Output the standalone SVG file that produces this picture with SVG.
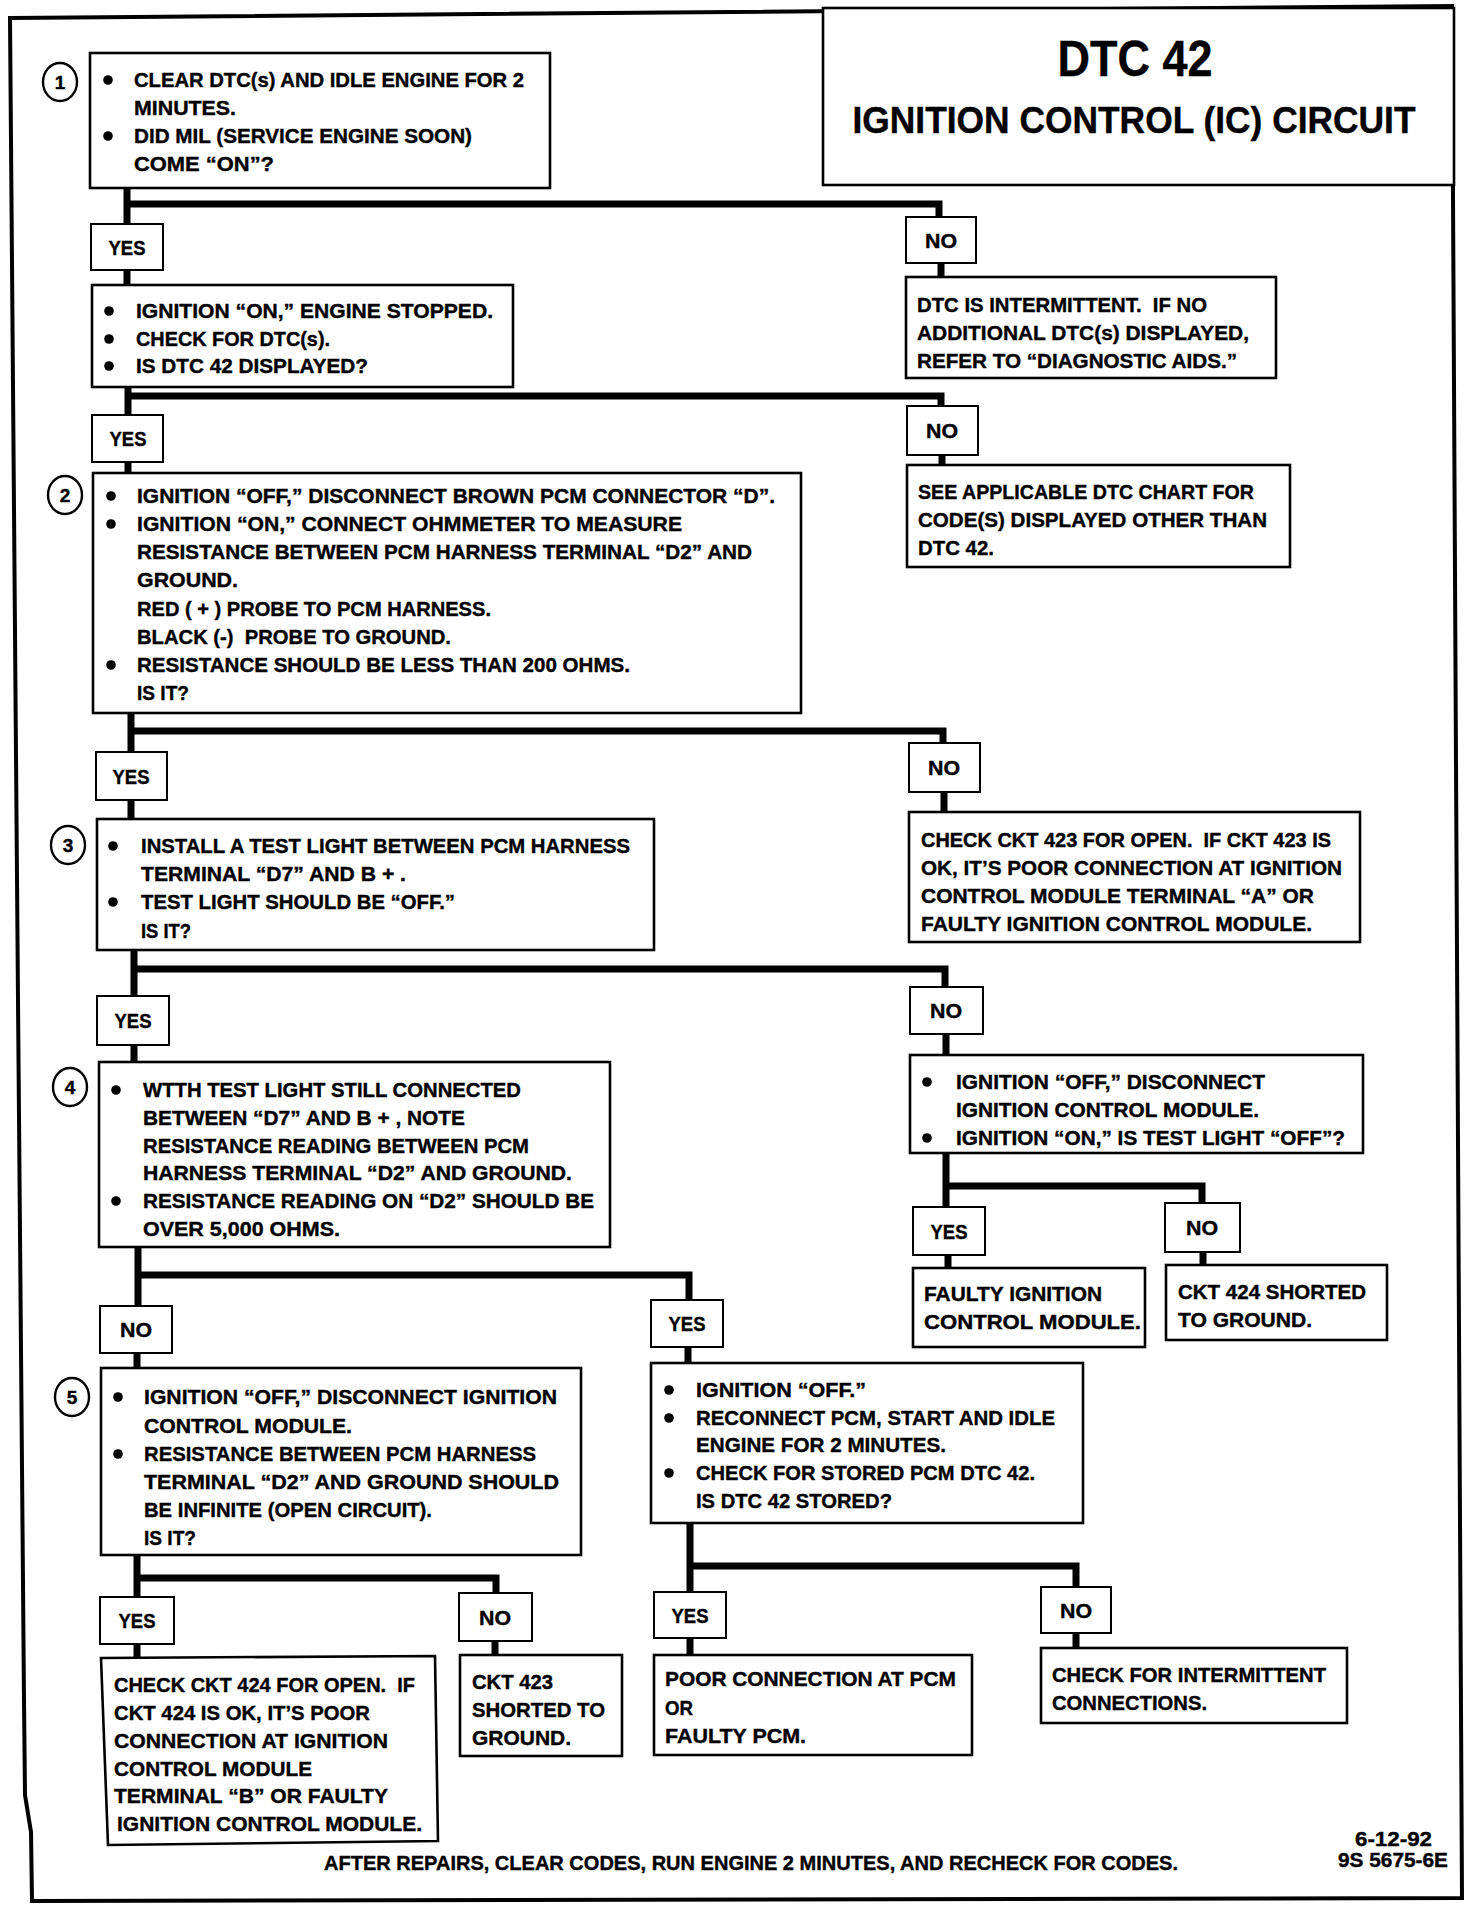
<svg xmlns="http://www.w3.org/2000/svg" width="1472" height="1910" viewBox="0 0 1472 1910">
<style>
.t{font-family:"Liberation Sans",Arial,sans-serif;font-weight:bold;font-size:21px;fill:#000;stroke:#000;stroke-width:0.4}
.c{text-anchor:middle}
.b{fill:#fff;stroke:#000;stroke-width:2.6}
.n{fill:#fff;stroke:#000;stroke-width:2}
.w{fill:none;stroke:#000;stroke-width:7;stroke-linejoin:miter;stroke-linecap:square}
.d{fill:#000}
</style>
<rect width="1472" height="1910" fill="#fff"/>
<path d="M10,18 L1452,6 L1462,1898 L32,1901 L31,1832 L25,1795 L24,1700 L18,1000 Z" fill="none" stroke="#000" stroke-width="4"/>

<g id="connectors">
<path class="w" d="M127,188 V224 M127,204 H939 V217"/>
<path class="w" d="M127,270 V285"/>
<path class="w" d="M941,263 V277"/>
<path class="w" d="M128,387 V415 M128,396 H941 V406"/>
<path class="w" d="M942,455 V465"/>
<path class="w" d="M128,462 V473"/>
<path class="w" d="M131,713 V752 M131,731 H943 V743"/>
<path class="w" d="M131,800 V819"/>
<path class="w" d="M944,792 V812"/>
<path class="w" d="M134,950 V996 M134,969 H945 V987"/>
<path class="w" d="M134,1045 V1062"/>
<path class="w" d="M946,1034 V1055"/>
<path class="w" d="M946,1153 V1207 M946,1186 H1202 V1203"/>
<path class="w" d="M948,1255 V1268"/>
<path class="w" d="M1203,1252 V1265"/>
<path class="w" d="M138,1247 V1306 M138,1275 H689 V1300"/>
<path class="w" d="M137,1353 V1368"/>
<path class="w" d="M688,1347 V1367"/>
<path class="w" d="M137,1555 V1597 M137,1578 H496 V1593"/>
<path class="w" d="M137,1644 V1658"/>
<path class="w" d="M495,1641 V1655"/>
<path class="w" d="M690,1523 V1592 M690,1566 H1076 V1587"/>
<path class="w" d="M690,1638 V1655"/>
<path class="w" d="M1076,1633 V1648"/>
</g>

<g id="title">
<rect class="b" x="823" y="8" width="631" height="177"/>
<text class="t c" x="1135" y="76" style="font-size:50px" textLength="155" lengthAdjust="spacingAndGlyphs">DTC 42</text>
<text class="t c" x="1134" y="133" style="font-size:37px" textLength="563" lengthAdjust="spacingAndGlyphs">IGNITION CONTROL (IC) CIRCUIT</text>
</g>

<g id="step1">
<ellipse cx="60" cy="82" rx="17" ry="19" fill="#fff" stroke="#000" stroke-width="2.4"/>
<text class="t c" x="60" y="89" style="font-size:19px">1</text>
<rect class="b" x="90" y="53" width="460" height="135"/>
<circle class="d" cx="108" cy="80" r="4.8"/><circle class="d" cx="108" cy="136" r="4.8"/>
<text class="t" x="134" y="87" textLength="390" lengthAdjust="spacingAndGlyphs">CLEAR DTC(s) AND IDLE ENGINE FOR 2</text>
<text class="t" x="134" y="115" textLength="102" lengthAdjust="spacingAndGlyphs">MINUTES.</text>
<text class="t" x="134" y="143" textLength="338" lengthAdjust="spacingAndGlyphs">DID MIL (SERVICE ENGINE SOON)</text>
<text class="t" x="134" y="171" textLength="140" lengthAdjust="spacingAndGlyphs">COME “ON”?</text>
</g>

<g id="yes1"><rect class="n" x="91" y="224" width="72" height="46"/><text class="t c" x="127" y="255" textLength="37" lengthAdjust="spacingAndGlyphs">YES</text></g>
<g id="no1"><rect class="n" x="906" y="217" width="70" height="46"/><text class="t c" x="941" y="248" textLength="32" lengthAdjust="spacingAndGlyphs">NO</text></g>

<g id="intermittent">
<rect class="b" x="906" y="277" width="370" height="101"/>
<text class="t" x="917" y="312" textLength="290" lengthAdjust="spacingAndGlyphs">DTC IS INTERMITTENT.&#160; IF NO</text>
<text class="t" x="917" y="340" textLength="332" lengthAdjust="spacingAndGlyphs">ADDITIONAL DTC(s) DISPLAYED,</text>
<text class="t" x="917" y="368" textLength="320" lengthAdjust="spacingAndGlyphs">REFER TO “DIAGNOSTIC AIDS.”</text>
</g>

<g id="check-dtc">
<rect class="b" x="92" y="285" width="421" height="102"/>
<circle class="d" cx="109" cy="311" r="4.8"/><circle class="d" cx="109" cy="339" r="4.8"/><circle class="d" cx="109" cy="366" r="4.8"/>
<text class="t" x="136" y="318" textLength="357" lengthAdjust="spacingAndGlyphs">IGNITION “ON,” ENGINE STOPPED.</text>
<text class="t" x="136" y="346" textLength="194" lengthAdjust="spacingAndGlyphs">CHECK FOR DTC(s).</text>
<text class="t" x="136" y="373" textLength="232" lengthAdjust="spacingAndGlyphs">IS DTC 42 DISPLAYED?</text>
</g>

<g id="yes2"><rect class="n" x="92" y="415" width="71" height="47"/><text class="t c" x="128" y="446" textLength="37" lengthAdjust="spacingAndGlyphs">YES</text></g>
<g id="no2"><rect class="n" x="907" y="406" width="71" height="49"/><text class="t c" x="942" y="438" textLength="32" lengthAdjust="spacingAndGlyphs">NO</text></g>

<g id="see-chart">
<rect class="b" x="907" y="465" width="383" height="102"/>
<text class="t" x="918" y="499" textLength="336" lengthAdjust="spacingAndGlyphs">SEE APPLICABLE DTC CHART FOR</text>
<text class="t" x="918" y="527" textLength="349" lengthAdjust="spacingAndGlyphs">CODE(S) DISPLAYED OTHER THAN</text>
<text class="t" x="918" y="555" textLength="76" lengthAdjust="spacingAndGlyphs">DTC 42.</text>
</g>

<g id="step2">
<ellipse cx="65" cy="495" rx="17" ry="19" fill="#fff" stroke="#000" stroke-width="2.4"/>
<text class="t c" x="65" y="502" style="font-size:19px">2</text>
<rect class="b" x="93" y="473" width="708" height="240"/>
<circle class="d" cx="111" cy="496" r="4.8"/><circle class="d" cx="111" cy="524" r="4.8"/><circle class="d" cx="111" cy="665" r="4.8"/>
<text class="t" x="137" y="503" textLength="638" lengthAdjust="spacingAndGlyphs">IGNITION “OFF,” DISCONNECT BROWN PCM CONNECTOR “D”.</text>
<text class="t" x="137" y="531" textLength="545" lengthAdjust="spacingAndGlyphs">IGNITION “ON,” CONNECT OHMMETER TO MEASURE</text>
<text class="t" x="137" y="559" textLength="615" lengthAdjust="spacingAndGlyphs">RESISTANCE BETWEEN PCM HARNESS TERMINAL “D2” AND</text>
<text class="t" x="137" y="587" textLength="101" lengthAdjust="spacingAndGlyphs">GROUND.</text>
<text class="t" x="137" y="616" textLength="354" lengthAdjust="spacingAndGlyphs">RED ( + ) PROBE TO PCM HARNESS.</text>
<text class="t" x="137" y="644" textLength="314" lengthAdjust="spacingAndGlyphs">BLACK (-)&#160; PROBE TO GROUND.</text>
<text class="t" x="137" y="672" textLength="493" lengthAdjust="spacingAndGlyphs">RESISTANCE SHOULD BE LESS THAN 200 OHMS.</text>
<text class="t" x="137" y="700" textLength="52" lengthAdjust="spacingAndGlyphs">IS IT?</text>
</g>

<g id="yes3"><rect class="n" x="96" y="752" width="71" height="48"/><text class="t c" x="131" y="784" textLength="37" lengthAdjust="spacingAndGlyphs">YES</text></g>
<g id="no3"><rect class="n" x="909" y="743" width="71" height="49"/><text class="t c" x="944" y="775" textLength="32" lengthAdjust="spacingAndGlyphs">NO</text></g>

<g id="ckt423-open">
<rect class="b" x="909" y="812" width="451" height="130"/>
<text class="t" x="921" y="847" textLength="410" lengthAdjust="spacingAndGlyphs">CHECK CKT 423 FOR OPEN.&#160; IF CKT 423 IS</text>
<text class="t" x="921" y="875" textLength="421" lengthAdjust="spacingAndGlyphs">OK, IT’S POOR CONNECTION AT IGNITION</text>
<text class="t" x="921" y="903" textLength="393" lengthAdjust="spacingAndGlyphs">CONTROL MODULE TERMINAL “A” OR</text>
<text class="t" x="921" y="931" textLength="391" lengthAdjust="spacingAndGlyphs">FAULTY IGNITION CONTROL MODULE.</text>
</g>

<g id="step3">
<ellipse cx="68" cy="845" rx="17" ry="19" fill="#fff" stroke="#000" stroke-width="2.4"/>
<text class="t c" x="68" y="852" style="font-size:19px">3</text>
<rect class="b" x="97" y="819" width="557" height="131"/>
<circle class="d" cx="113" cy="846" r="4.8"/><circle class="d" cx="113" cy="902" r="4.8"/>
<text class="t" x="141" y="853" textLength="489" lengthAdjust="spacingAndGlyphs">INSTALL A TEST LIGHT BETWEEN PCM HARNESS</text>
<text class="t" x="141" y="881" textLength="265" lengthAdjust="spacingAndGlyphs">TERMINAL “D7” AND B + .</text>
<text class="t" x="141" y="909" textLength="314" lengthAdjust="spacingAndGlyphs">TEST LIGHT SHOULD BE “OFF.”</text>
<text class="t" x="141" y="938" textLength="50" lengthAdjust="spacingAndGlyphs">IS IT?</text>
</g>

<g id="yes4"><rect class="n" x="97" y="996" width="72" height="49"/><text class="t c" x="133" y="1028" textLength="37" lengthAdjust="spacingAndGlyphs">YES</text></g>
<g id="no4"><rect class="n" x="910" y="987" width="73" height="47"/><text class="t c" x="946" y="1018" textLength="32" lengthAdjust="spacingAndGlyphs">NO</text></g>

<g id="icm-disconnect">
<rect class="b" x="910" y="1055" width="453" height="98"/>
<circle class="d" cx="927" cy="1082" r="4.8"/><circle class="d" cx="927" cy="1138" r="4.8"/>
<text class="t" x="956" y="1089" textLength="309" lengthAdjust="spacingAndGlyphs">IGNITION “OFF,” DISCONNECT</text>
<text class="t" x="956" y="1117" textLength="303" lengthAdjust="spacingAndGlyphs">IGNITION CONTROL MODULE.</text>
<text class="t" x="956" y="1145" textLength="389" lengthAdjust="spacingAndGlyphs">IGNITION “ON,” IS TEST LIGHT “OFF”?</text>
</g>

<g id="yes8"><rect class="n" x="913" y="1207" width="72" height="48"/><text class="t c" x="949" y="1239" textLength="37" lengthAdjust="spacingAndGlyphs">YES</text></g>
<g id="no8"><rect class="n" x="1165" y="1203" width="75" height="49"/><text class="t c" x="1202" y="1235" textLength="32" lengthAdjust="spacingAndGlyphs">NO</text></g>

<g id="faulty-icm">
<rect class="b" x="913" y="1268" width="232" height="79"/>
<text class="t" x="924" y="1301" textLength="178" lengthAdjust="spacingAndGlyphs">FAULTY IGNITION</text>
<text class="t" x="924" y="1329" textLength="217" lengthAdjust="spacingAndGlyphs">CONTROL MODULE.</text>
</g>

<g id="ckt424-short">
<rect class="b" x="1166" y="1265" width="221" height="75"/>
<text class="t" x="1178" y="1299" textLength="188" lengthAdjust="spacingAndGlyphs">CKT 424 SHORTED</text>
<text class="t" x="1178" y="1327" textLength="134" lengthAdjust="spacingAndGlyphs">TO GROUND.</text>
</g>

<g id="step4">
<ellipse cx="70" cy="1087" rx="17" ry="19" fill="#fff" stroke="#000" stroke-width="2.4"/>
<text class="t c" x="70" y="1094" style="font-size:19px">4</text>
<rect class="b" x="99" y="1062" width="511" height="185"/>
<circle class="d" cx="116" cy="1090" r="4.8"/><circle class="d" cx="116" cy="1201" r="4.8"/>
<text class="t" x="143" y="1097" textLength="378" lengthAdjust="spacingAndGlyphs">WTTH TEST LIGHT STILL CONNECTED</text>
<text class="t" x="143" y="1125" textLength="322" lengthAdjust="spacingAndGlyphs">BETWEEN “D7” AND B + , NOTE</text>
<text class="t" x="143" y="1153" textLength="386" lengthAdjust="spacingAndGlyphs">RESISTANCE READING BETWEEN PCM</text>
<text class="t" x="143" y="1180" textLength="429" lengthAdjust="spacingAndGlyphs">HARNESS TERMINAL “D2” AND GROUND.</text>
<text class="t" x="143" y="1208" textLength="451" lengthAdjust="spacingAndGlyphs">RESISTANCE READING ON “D2” SHOULD BE</text>
<text class="t" x="143" y="1236" textLength="197" lengthAdjust="spacingAndGlyphs">OVER 5,000 OHMS.</text>
</g>

<g id="no5"><rect class="n" x="100" y="1306" width="72" height="47"/><text class="t c" x="136" y="1337" textLength="32" lengthAdjust="spacingAndGlyphs">NO</text></g>
<g id="yes5"><rect class="n" x="651" y="1300" width="72" height="47"/><text class="t c" x="687" y="1331" textLength="37" lengthAdjust="spacingAndGlyphs">YES</text></g>

<g id="step5">
<ellipse cx="72" cy="1397" rx="17" ry="19" fill="#fff" stroke="#000" stroke-width="2.4"/>
<text class="t c" x="72" y="1404" style="font-size:19px">5</text>
<rect class="b" x="101" y="1368" width="480" height="187"/>
<circle class="d" cx="118" cy="1397" r="4.8"/><circle class="d" cx="118" cy="1454" r="4.8"/>
<text class="t" x="144" y="1404" textLength="413" lengthAdjust="spacingAndGlyphs">IGNITION “OFF,” DISCONNECT IGNITION</text>
<text class="t" x="144" y="1433" textLength="208" lengthAdjust="spacingAndGlyphs">CONTROL MODULE.</text>
<text class="t" x="144" y="1461" textLength="392" lengthAdjust="spacingAndGlyphs">RESISTANCE BETWEEN PCM HARNESS</text>
<text class="t" x="144" y="1489" textLength="415" lengthAdjust="spacingAndGlyphs">TERMINAL “D2” AND GROUND SHOULD</text>
<text class="t" x="144" y="1517" textLength="288" lengthAdjust="spacingAndGlyphs">BE INFINITE (OPEN CIRCUIT).</text>
<text class="t" x="144" y="1545" textLength="52" lengthAdjust="spacingAndGlyphs">IS IT?</text>
</g>

<g id="stored-check">
<rect class="b" x="651" y="1363" width="432" height="160"/>
<circle class="d" cx="669" cy="1390" r="4.8"/><circle class="d" cx="669" cy="1418" r="4.8"/><circle class="d" cx="669" cy="1473" r="4.8"/>
<text class="t" x="696" y="1397" textLength="170" lengthAdjust="spacingAndGlyphs">IGNITION “OFF.”</text>
<text class="t" x="696" y="1425" textLength="359" lengthAdjust="spacingAndGlyphs">RECONNECT PCM, START AND IDLE</text>
<text class="t" x="696" y="1452" textLength="250" lengthAdjust="spacingAndGlyphs">ENGINE FOR 2 MINUTES.</text>
<text class="t" x="696" y="1480" textLength="339" lengthAdjust="spacingAndGlyphs">CHECK FOR STORED PCM DTC 42.</text>
<text class="t" x="696" y="1508" textLength="196" lengthAdjust="spacingAndGlyphs">IS DTC 42 STORED?</text>
</g>

<g id="yes6"><rect class="n" x="100" y="1597" width="74" height="47"/><text class="t c" x="137" y="1628" textLength="37" lengthAdjust="spacingAndGlyphs">YES</text></g>
<g id="no6"><rect class="n" x="459" y="1593" width="73" height="48"/><text class="t c" x="495" y="1625" textLength="32" lengthAdjust="spacingAndGlyphs">NO</text></g>
<g id="yes7"><rect class="n" x="654" y="1592" width="72" height="46"/><text class="t c" x="690" y="1623" textLength="37" lengthAdjust="spacingAndGlyphs">YES</text></g>
<g id="no7"><rect class="n" x="1041" y="1587" width="70" height="46"/><text class="t c" x="1076" y="1618" textLength="32" lengthAdjust="spacingAndGlyphs">NO</text></g>

<g id="ckt424-open">
<path class="b" d="M101,1658 L435,1656 L438,1841 L108,1845 Z"/>
<text class="t" x="114" y="1692" textLength="301" lengthAdjust="spacingAndGlyphs">CHECK CKT 424 FOR OPEN.&#160; IF</text>
<text class="t" x="114" y="1720" textLength="256" lengthAdjust="spacingAndGlyphs">CKT 424 IS OK, IT’S POOR</text>
<text class="t" x="114" y="1748" textLength="274" lengthAdjust="spacingAndGlyphs">CONNECTION AT IGNITION</text>
<text class="t" x="114" y="1776" textLength="198" lengthAdjust="spacingAndGlyphs">CONTROL MODULE</text>
<text class="t" x="114" y="1803" textLength="274" lengthAdjust="spacingAndGlyphs">TERMINAL “B” OR FAULTY</text>
<text class="t" x="117" y="1831" textLength="305" lengthAdjust="spacingAndGlyphs">IGNITION CONTROL MODULE.</text>
</g>

<g id="ckt423-short">
<rect class="b" x="460" y="1655" width="162" height="101"/>
<text class="t" x="472" y="1689" textLength="81" lengthAdjust="spacingAndGlyphs">CKT 423</text>
<text class="t" x="472" y="1717" textLength="133" lengthAdjust="spacingAndGlyphs">SHORTED TO</text>
<text class="t" x="472" y="1745" textLength="99" lengthAdjust="spacingAndGlyphs">GROUND.</text>
</g>

<g id="poor-pcm">
<rect class="b" x="654" y="1655" width="318" height="100"/>
<text class="t" x="665" y="1686" textLength="291" lengthAdjust="spacingAndGlyphs">POOR CONNECTION AT PCM</text>
<text class="t" x="665" y="1715" textLength="28" lengthAdjust="spacingAndGlyphs">OR</text>
<text class="t" x="665" y="1743" textLength="141" lengthAdjust="spacingAndGlyphs">FAULTY PCM.</text>
</g>

<g id="intermittent-conn">
<rect class="b" x="1041" y="1648" width="306" height="75"/>
<text class="t" x="1052" y="1682" textLength="274" lengthAdjust="spacingAndGlyphs">CHECK FOR INTERMITTENT</text>
<text class="t" x="1052" y="1710" textLength="155" lengthAdjust="spacingAndGlyphs">CONNECTIONS.</text>
</g>

<g id="footer">
<text class="t" x="324" y="1870" textLength="854" lengthAdjust="spacingAndGlyphs">AFTER REPAIRS, CLEAR CODES, RUN ENGINE 2 MINUTES, AND RECHECK FOR CODES.</text>
<text class="t" x="1355" y="1846" textLength="77" lengthAdjust="spacingAndGlyphs">6-12-92</text>
<text class="t" x="1338" y="1867" textLength="110" lengthAdjust="spacingAndGlyphs">9S 5675-6E</text>
</g>
</svg>
